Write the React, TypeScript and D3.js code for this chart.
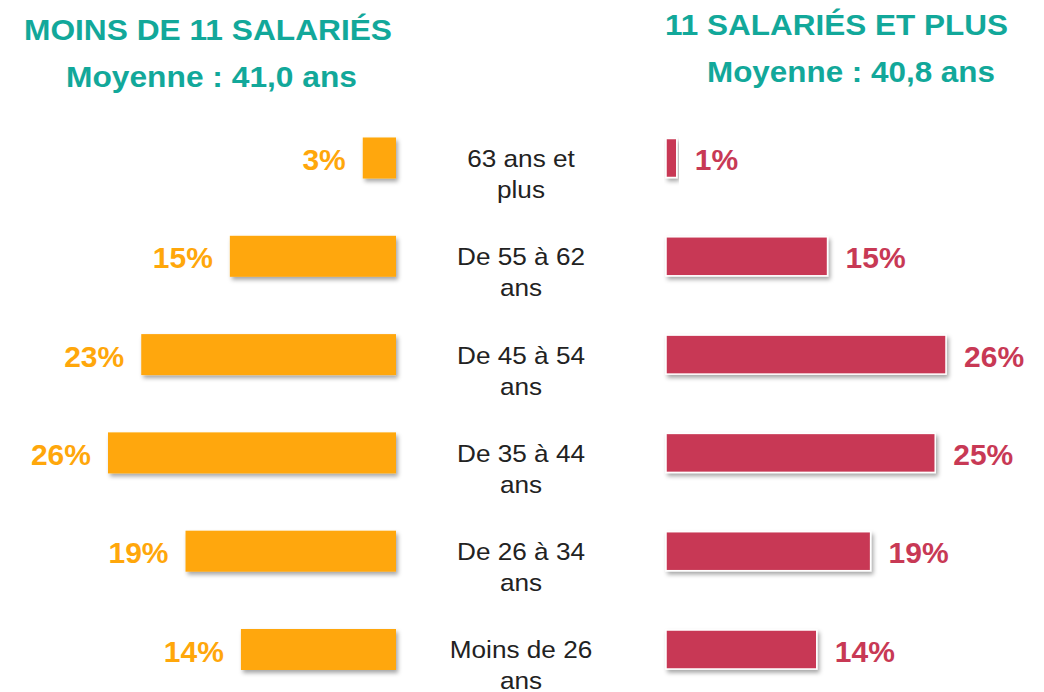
import React from "react";
import * as d3 from "d3";

const categories = [
  ["63 ans et", "plus"],
  ["De 55 à 62", "ans"],
  ["De 45 à 54", "ans"],
  ["De 35 à 44", "ans"],
  ["De 26 à 34", "ans"],
  ["Moins de 26", "ans"],
];
const smallValues = [3, 15, 23, 26, 19, 14];
const largeValues = [1, 15, 26, 25, 19, 14];
const leftTitle = "MOINS DE 11 SALARIÉS";
const leftSubtitle = "Moyenne : 41,0 ans";
const rightTitle = "11 SALARIÉS ET PLUS";
const rightSubtitle = "Moyenne : 40,8 ans";

const W = 1044;
const H = 692;
const TEAL = "#12A89A";
const ORANGE = "#FFA70B";
const CRIMSON = "#C83955";
const FONT = "'Liberation Sans', Arial, Helvetica, sans-serif";

export default function App() {
  const y = d3
    .scalePoint<number>()
    .domain(d3.range(categories.length))
    .range([158, 649.5]);

  const leftRight = 396;
  const xLeft = d3.scaleLinear().domain([0, 26]).range([0, 288]);
  const rightStart = 666;
  const xRight = d3.scaleLinear().domain([0, 26]).range([0, 280]);

  return (
    <svg
      width={W}
      height={H}
      viewBox={`0 0 ${W} ${H}`}
      style={{ position: "absolute", left: 0, top: 0, background: "#fff" }}
      fontFamily={FONT}
    >
      <defs>
        <filter id="shadow" x="-10%" y="-30%" width="130%" height="180%">
          <feDropShadow dx="2" dy="3" stdDeviation="2" floodColor="#000" floodOpacity="0.35" />
        </filter>
      </defs>

      {/* titles */}
      <g fill={TEAL} fontWeight="bold" textAnchor="middle">
        <text x={208} y={40} fontSize={30} textLength={368} lengthAdjust="spacingAndGlyphs">
          {leftTitle}
        </text>
        <text x={211.5} y={87} fontSize={30} textLength={291} lengthAdjust="spacingAndGlyphs">
          {leftSubtitle}
        </text>
        <text x={836.5} y={35} fontSize={30} textLength={343} lengthAdjust="spacingAndGlyphs">
          {rightTitle}
        </text>
        <text x={851} y={82} fontSize={30} textLength={288} lengthAdjust="spacingAndGlyphs">
          {rightSubtitle}
        </text>
      </g>

      {/* left bars */}
      {smallValues.map((v, i) => {
        const cy = y(i)!;
        const w = xLeft(v);
        return (
          <g key={"l" + i}>
            <rect
              x={leftRight - w}
              y={cy - 20.5}
              width={w}
              height={41}
              fill={ORANGE}
              filter="url(#shadow)"
            />
            <text
              x={leftRight - w - 17}
              y={cy + 12}
              textAnchor="end"
              fontSize={30}
              fontWeight="bold"
              fill={ORANGE}
            >
              {v}%
            </text>
          </g>
        );
      })}

      {/* right bars */}
      {largeValues.map((v, i) => {
        const cy = y(i)!;
        const w = xRight(v);
        return (
          <g key={"r" + i}>
            <rect
              x={rightStart}
              y={cy - 19.5}
              width={w}
              height={39}
              fill={CRIMSON}
              stroke="#fff"
              strokeWidth={1.5}
              filter="url(#shadow)"
            />
            <text
              x={rightStart + w + 18}
              y={cy + 12}
              textAnchor="start"
              fontSize={30}
              fontWeight="bold"
              fill={CRIMSON}
            >
              {v}%
            </text>
          </g>
        );
      })}

      {/* category labels */}
      <g transform="translate(521,0) scale(1.09,1)">
        {categories.map((lines, i) => {
          const cy = y(i)!;
          return (
            <text key={"c" + i} textAnchor="middle" fontSize={24} fill="#222">
              {lines.map((ln, j) => (
                <tspan key={j} x={0} y={cy + 9 + j * 31}>
                  {ln}
                </tspan>
              ))}
            </text>
          );
        })}
      </g>
    </svg>
  );
}
